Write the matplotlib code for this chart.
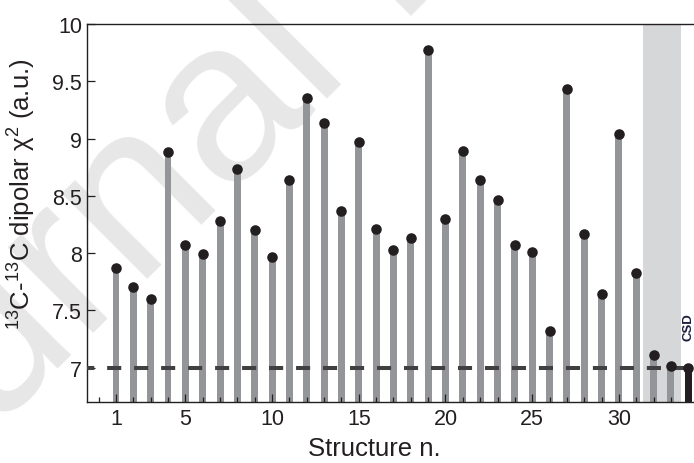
import numpy as np
import matplotlib
matplotlib.use('Agg')
import matplotlib.pyplot as plt
from matplotlib.ticker import FormatStrFormatter, MultipleLocator

plt.rcParams['font.family'] = ['Liberation Sans', 'DejaVu Sans']
plt.rcParams['mathtext.fontset'] = 'custom'
plt.rcParams['mathtext.rm'] = 'Liberation Sans'
plt.rcParams['mathtext.it'] = 'Liberation Sans:italic'
plt.rcParams['mathtext.default'] = 'regular'

# chi^2 of each candidate structure, plus the CSD reference
structure_n = np.arange(1, 34)
chi2 = [7.87, 7.70, 7.60, 8.88, 8.07, 7.99, 8.28, 8.73, 8.20, 7.97,
        8.64, 9.35, 9.14, 8.37, 8.97, 8.21, 8.03, 8.13, 9.77, 8.30,
        8.89, 8.64, 8.46, 8.07, 8.01, 7.32, 9.43, 8.17, 7.64, 9.04,
        7.83, 7.11, 7.01]
csd_pos = 34
csd_chi2 = 7.0
ref_level = 7.0
highlight = (31.37, 33.58)
xtick_labels = [1, 5, 10, 15, 20, 25, 30]

ymin, ymax = 6.7, 10.0
bar_col = '#939598'
dot_col = '#231f20'

fig = plt.figure(figsize=(6.94, 4.64), dpi=100)
fig.patch.set_facecolor('white')

# faint diagonal watermark behind everything
fig.text(-0.2565, -0.3039, 'Journal Pre-proof', fontsize=165, color='#e7e7e7',
         rotation=45, rotation_mode='anchor', ha='left', va='baseline',
         family='Liberation Sans', zorder=-1)

ax = fig.add_axes([87/694, 1 - 403/464, 607/694, 378/464])
ax.set_facecolor('none')

ax.axvspan(highlight[0], highlight[1], color='#d6d7d9', lw=0, zorder=0)

chi2 = np.array(chi2)
ax.bar(structure_n, chi2 - ymin, bottom=ymin, width=0.4, color=bar_col, zorder=1)
ax.bar([csd_pos], [csd_chi2 - ymin], bottom=ymin, width=0.4, color=dot_col, zorder=1)

ax.axhline(ref_level, color='#404040', lw=2.9, ls=(1.7, (3.5, 3.2)),
           dash_capstyle='butt', zorder=3)

ax.plot(structure_n, chi2, 'o', ms=7.6, color=dot_col, mec='none', zorder=4)
ax.plot([csd_pos], [csd_chi2], 'o', ms=7.6, color=dot_col, mec='none', zorder=4)

ax.text(csd_pos, 7.24, 'CSD', rotation=90, ha='center', va='bottom',
        fontsize=9.5, fontweight='bold', color='#1c1c3c', clip_on=False)

ax.set_xlim(-0.672, 34.33)
ax.set_ylim(ymin, ymax)

ax.set_xticks(xtick_labels)
ax.xaxis.set_minor_locator(MultipleLocator(1))
ax.yaxis.set_major_locator(MultipleLocator(0.5))
ax.yaxis.set_major_formatter(FormatStrFormatter('%g'))

ax.tick_params(axis='both', which='major', direction='in', length=5.8, width=0.9,
               labelsize=15.5, colors='#231f20')
ax.tick_params(axis='x', which='major', pad=4)
ax.tick_params(axis='y', which='major', pad=3.5)
ax.tick_params(axis='x', which='minor', direction='in', length=3.6, width=0.9,
               colors='#231f20')

for s in ['left', 'bottom', 'top']:
    ax.spines[s].set_linewidth(1.0)
    ax.spines[s].set_color('#231f20')
ax.spines['right'].set_visible(False)

ax.set_xlabel('Structure n.', fontsize=18.5, color='#231f20')
ax.xaxis.set_label_coords(0.473, -0.09)
ax.set_ylabel(r'$^{13}$C-$^{13}$C dipolar χ$^2$ (a.u.)', fontsize=18.5, color='#231f20')
ax.yaxis.set_label_coords(-0.08, 0.553)

fig.savefig('out.png', dpi=100, facecolor='white')
